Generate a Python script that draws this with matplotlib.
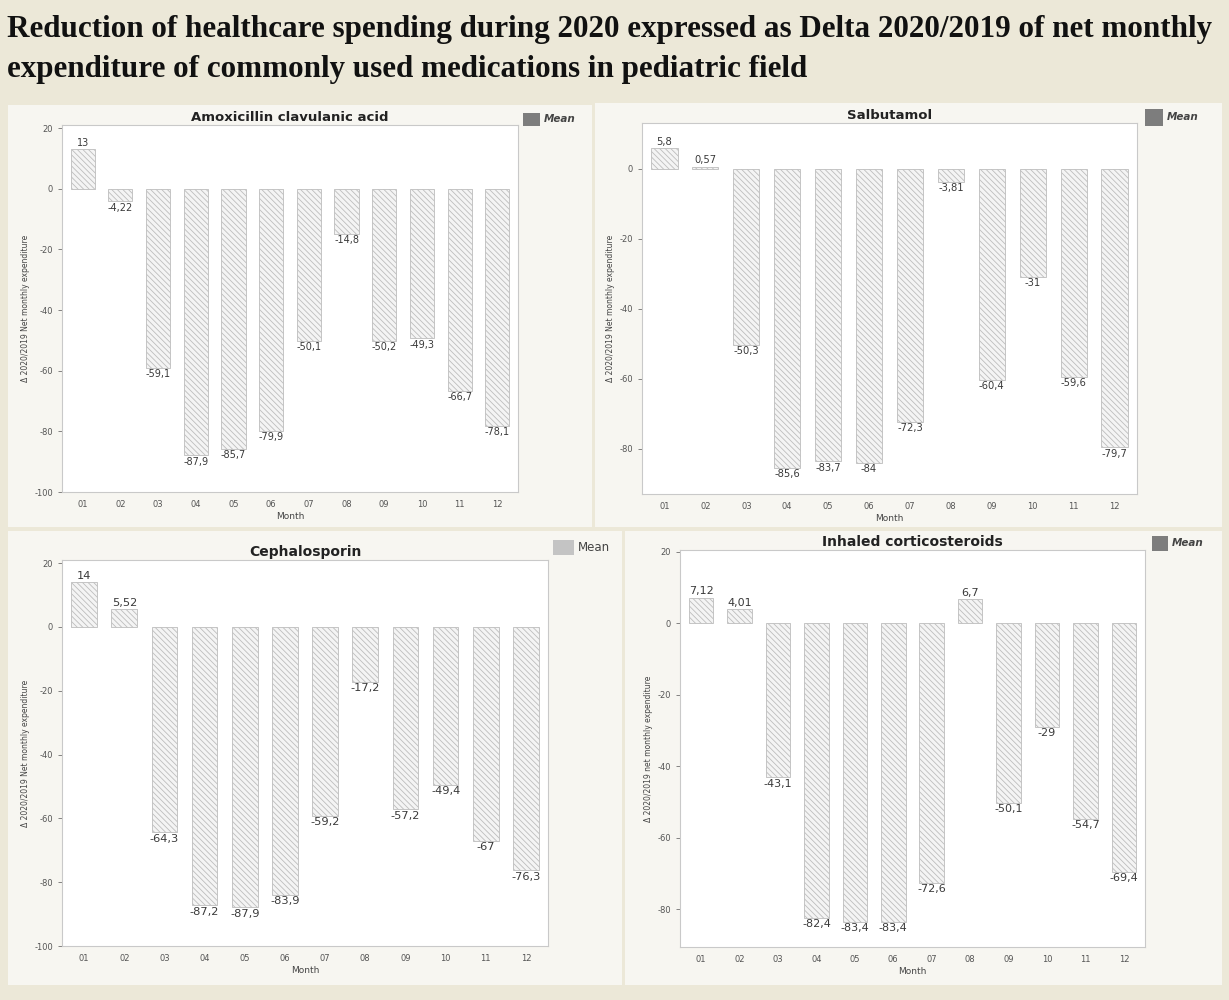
import matplotlib
matplotlib.use("Agg")
import matplotlib.pyplot as plt
from matplotlib.patches import Rectangle

months = ["01", "02", "03", "04", "05", "06", "07", "08", "09", "10", "11", "12"]

amoxicillin = [13, -4.22, -59.1, -87.9, -85.7, -79.9, -50.1, -14.8, -50.2, -49.3, -66.7, -78.1]
salbutamol = [5.8, 0.57, -50.3, -85.6, -83.7, -84, -72.3, -3.81, -60.4, -31, -59.6, -79.7]
cephalosporin = [14, 5.52, -64.3, -87.2, -87.9, -83.9, -59.2, -17.2, -57.2, -49.4, -67, -76.3]
corticosteroids = [7.12, 4.01, -43.1, -82.4, -83.4, -83.4, -72.6, 6.7, -50.1, -29, -54.7, -69.4]

titles = ["Amoxicillin clavulanic acid", "Salbutamol", "Cephalosporin", "Inhaled corticosteroids"]
ylabels = ["Δ 2020/2019 Net monthly expenditure",
           "Δ 2020/2019 Net monthly expenditure",
           "Δ 2020/2019 Net monthly expenditure",
           "Δ 2020/2019 net monthly expenditure"]
xlabel = "Month"
legend_label = "Mean"
main_title_lines = ["Reduction of healthcare spending during 2020 expressed as Delta 2020/2019 of net monthly",
                    "expenditure of commonly used medications in pediatric field"]

plt.rcParams["axes.unicode_minus"] = False
plt.rcParams["hatch.color"] = "#a8a8a8"
plt.rcParams["hatch.linewidth"] = 0.6

W, H = 1229, 1000
fig = plt.figure(figsize=(W / 100, H / 100), dpi=100)
fig.patch.set_facecolor("#ece8d8")

def fx(x):
    return x / W

def fy(y):
    return 1 - y / H

# panel backgrounds (pixel boxes: x0, y0, x1, y1)
panels = [(8, 105, 592, 527), (595, 103, 1222, 527), (8, 531, 622, 985), (625, 531, 1222, 985)]
for (x0, y0, x1, y1) in panels:
    fig.patches.append(Rectangle((fx(x0), fy(y1)), fx(x1 - x0), (y1 - y0) / H,
                                 transform=fig.transFigure, facecolor="#f7f6f1",
                                 edgecolor="none", zorder=-5))

for k, line in enumerate(main_title_lines):
    fig.text(fx(7), fy(37 + 40 * k), line, ha="left", va="baseline", fontsize=22.4,
             fontweight="bold", family="Liberation Serif", color="#111111")

# axes boxes in pixels: left, top, right, bottom
boxes = [(62, 125, 518, 492), (642, 123, 1137, 494), (62, 560, 548, 946), (680, 550, 1145, 947)]
ylims = [(-100, 21), (-93, 13), (-100, 21), (-90.5, 20.5)]
yticks = [[20, 0, -20, -40, -60, -80, -100], [0, -20, -40, -60, -80],
          [20, 0, -20, -40, -60, -80, -100], [20, 0, -20, -40, -60, -80]]
series = [amoxicillin, salbutamol, cephalosporin, corticosteroids]
label_sizes = [7, 7.2, 8.2, 8]
title_sizes = [9.5, 9.5, 10, 10]
legend_boxes = [(523, 113, 540, 126), (1145, 109, 1163, 126), (553, 540, 574, 555), (1152, 536, 1168, 551)]
legend_colors = ["#7d7d7d", "#7d7d7d", "#c4c4c4", "#7d7d7d"]
legend_styles = [("bold", "italic"), ("bold", "italic"), ("normal", "normal"), ("bold", "italic")]

for i in range(4):
    l, t, r, b = boxes[i]
    ax = fig.add_axes([fx(l), fy(b), (r - l) / W, (b - t) / H])
    ax.set_zorder(2)
    ax.set_facecolor("white")
    vals = series[i]
    x = list(range(len(months)))
    ax.bar(x, vals, width=0.64, color="#f4f4f4", edgecolor="#bdbdbd",
           linewidth=0.6, hatch="\\\\\\\\\\\\", zorder=2)
    for xi, v in zip(x, vals):
        txt = f"{v:g}".replace(".", ",")
        if v >= 0:
            ax.annotate(txt, (xi, v), xytext=(0, 1), textcoords="offset points",
                        ha="center", va="bottom", fontsize=label_sizes[i], color="#3a3a3a")
        else:
            ax.annotate(txt, (xi, v), xytext=(0, -1), textcoords="offset points",
                        ha="center", va="top", fontsize=label_sizes[i], color="#3a3a3a")
    ax.set_xlim(-0.55, len(months) - 0.45)
    ax.set_ylim(*ylims[i])
    ax.set_yticks(yticks[i])
    ax.set_xticks(x)
    ax.set_xticklabels(months)
    ax.tick_params(axis="both", labelsize=6, colors="#555555", length=3, width=0.5)
    ax.tick_params(axis="x", length=0, pad=6)
    for s in ax.spines.values():
        s.set_color("#c9c9c9")
        s.set_linewidth(0.8)
    ax.set_xlabel(xlabel, fontsize=6.5, color="#444444", labelpad=2)
    ax.set_ylabel(ylabels[i], fontsize=5.5, color="#444444", labelpad=3)
    ax.set_title(titles[i], fontsize=title_sizes[i], fontweight="bold", color="#222222", pad=3)
    lx0, ly0, lx1, ly1 = legend_boxes[i]
    fig.patches.append(Rectangle((fx(lx0), fy(ly1)), fx(lx1 - lx0), (ly1 - ly0) / H,
                                 transform=fig.transFigure, facecolor=legend_colors[i],
                                 edgecolor="none", zorder=3))
    fw, fs = legend_styles[i]
    fig.text(fx(lx1 + 4), fy((ly0 + ly1) / 2), legend_label, ha="left", va="center",
             fontsize=7.5 if i != 2 else 8.5, fontweight=fw, fontstyle=fs, color="#444444")

fig.savefig("out.png", dpi=100, facecolor=fig.get_facecolor())
